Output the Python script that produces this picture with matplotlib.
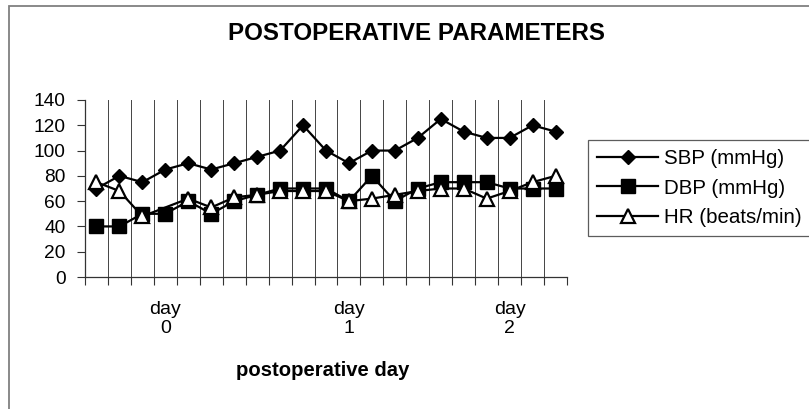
import numpy as np
import matplotlib
matplotlib.use("Agg")
import matplotlib.pyplot as plt
from matplotlib.patches import Rectangle

plt.rcParams['font.family'] = ['Liberation Sans', 'DejaVu Sans']

# ---- data ----
title = "POSTOPERATIVE PARAMETERS"
xlabel = "postoperative day"
series_names = ["SBP (mmHg)", "DBP (mmHg)", "HR (beats/min)"]
sbp = [70, 80, 75, 85, 90, 85, 90, 95, 100, 120, 100, 90, 100, 100, 110, 125, 115, 110, 110, 120, 115]
dbp = [40, 40, 50, 50, 60, 50, 60, 65, 70, 70, 70, 60, 80, 60, 70, 75, 75, 75, 70, 70, 70]
hr = [75, 68, 48, None, 62, 55, 63, 65, 68, 68, 68, 60, 62, 65, 68, 70, 70, 62, 68, 75, 80]
cat_labels = ["", "", "", "day\n0", "", "", "", "", "", "", "", "day\n1", "", "", "", "", "", "", "day\n2", "", ""]
yticks = [0, 20, 40, 60, 80, 100, 120, 140]

W, H = 809, 409
fig = plt.figure(figsize=(W / 100, H / 100), dpi=100)
fig.patch.set_facecolor('white')

# outer chart frame (left and top visible)
fig.patches.append(Rectangle((9 / W, -0.5), 2.0, 0.5 + 1 - 6 / H, transform=fig.transFigure,
                             fill=False, edgecolor='#808080', linewidth=1.3, zorder=0))

ax = fig.add_axes([85 / W, 1 - 277 / H, (567 - 85) / W, (277 - 100) / H])
n = len(sbp)
x = np.arange(n)

ax.plot(x, sbp, color='black', lw=1.6, marker='D', ms=7.5, mfc='black', mec='black', zorder=3,
        label=series_names[0])
ax.plot(x, dbp, color='black', lw=1.6, marker='s', ms=9.5, mfc='black', mec='black', zorder=4,
        label=series_names[1])
hr_arr = np.array([np.nan if v is None else v for v in hr], dtype=float)
mask = ~np.isnan(hr_arr)
ax.plot(x[mask], hr_arr[mask], color='black', lw=1.6, marker='^', ms=9.5, mfc='white', mec='black',
        mew=1.6, zorder=5, label=series_names[2])

ax.set_xlim(-0.5, n - 0.5)
ax.set_ylim(0, 140)

# boundaries = major ticks with gridlines, centres = label positions
ax.set_xticks(np.arange(-0.5, n, 1.0))
ax.set_xticklabels([])
ax.set_xticks(x, minor=True)
ax.set_xticklabels(cat_labels, minor=True)
ax.tick_params(axis='x', which='major', direction='out', length=6, width=0.8, color='#333333')
ax.tick_params(axis='x', which='minor', length=0, pad=17, labelsize=14)
ax.xaxis.grid(True, which='major', color='#444444', linewidth=0.7)
ax.set_axisbelow(True)

ax.set_yticks(yticks)
ax.set_yticklabels([str(v) for v in yticks])
ax.tick_params(axis='y', direction='out', length=6, width=0.8, color='#333333', labelsize=13.8, pad=8)

for s in ['top', 'right']:
    ax.spines[s].set_visible(False)
for s in ['left', 'bottom']:
    ax.spines[s].set_color('#333333')
    ax.spines[s].set_linewidth(0.9)

fig.text(416 / W, 1 - 34 / H, title, ha='center', va='center', fontsize=17.4, fontweight='bold')
fig.text(323 / W, 1 - 370 / H, xlabel, ha='center', va='center', fontsize=14.6, fontweight='bold')

leg = fig.legend(loc='upper left', bbox_to_anchor=(588 / W, 1 - 140 / H), bbox_transform=fig.transFigure,
                 frameon=True, fancybox=False, fontsize=14.8, handlelength=2.95, handletextpad=0.3,
                 labelspacing=0.5, borderpad=0.45, borderaxespad=0)
leg.get_frame().set_edgecolor('#333333')
leg.get_frame().set_linewidth(0.9)

fig.savefig('out.png', dpi=100)
